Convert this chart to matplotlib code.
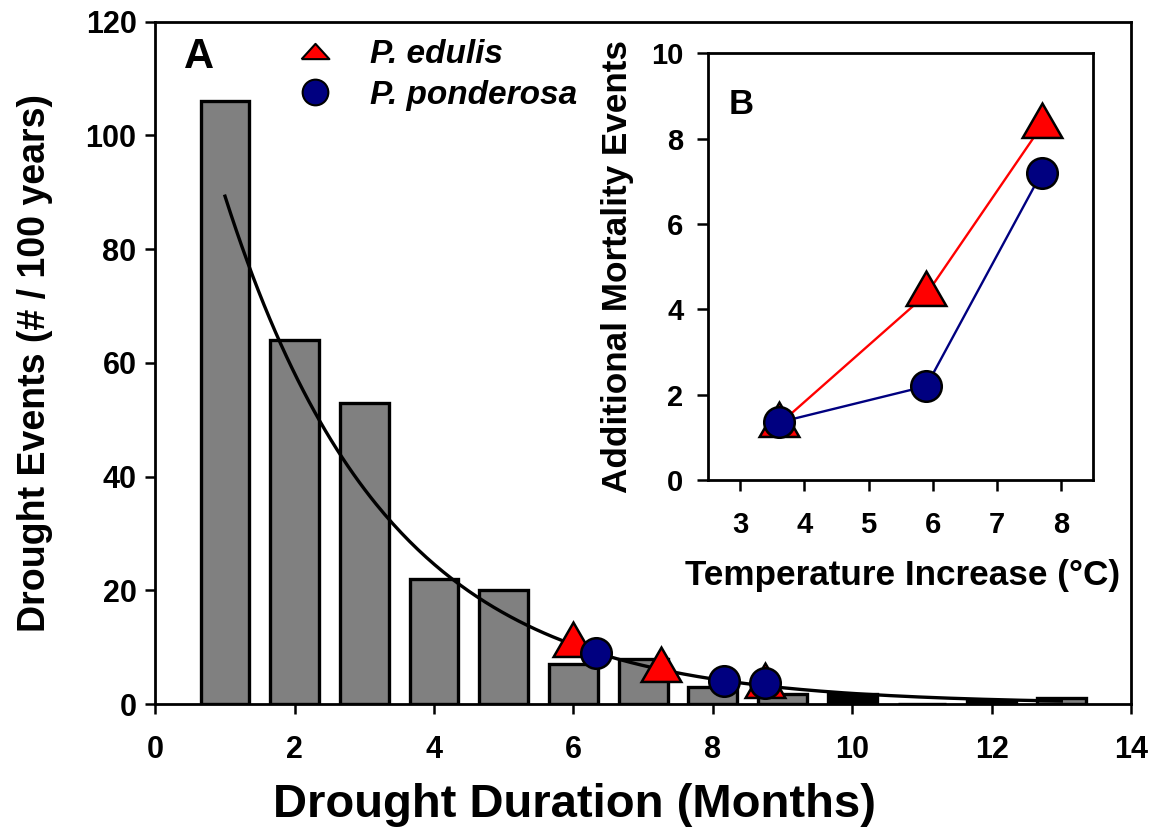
import numpy as np
import matplotlib
matplotlib.use("Agg")
import matplotlib.pyplot as plt
from matplotlib.lines import Line2D

plt.rcParams['font.family'] = ['Liberation Sans', 'DejaVu Sans']
plt.rcParams['font.weight'] = 'bold'

# ---- Panel A: drought events by duration ----
duration_months = [1, 2, 3, 4, 5, 6, 7, 8, 9, 10, 11, 12, 13]
drought_events = [106, 64, 53, 22, 20, 7, 8, 3, 1.7, 1.8, 0, 0.5, 1]

# exponential fit y = a * exp(-b * x)
fit_a = 137.3
fit_b = 0.43
fit_range = (1, 13)

edulis_duration = [6.0, 7.25, 8.75]
edulis_events = [10.3, 6.0, 3.2]
ponderosa_duration = [6.33, 8.16, 8.75]
ponderosa_events = [9.0, 4.1, 3.7]

x_ticks_a = [0, 2, 4, 6, 8, 10, 12, 14]
y_ticks_a = [0, 20, 40, 60, 80, 100, 120]

# ---- Panel B: additional mortality vs warming ----
temp_increase = [3.6, 5.9, 7.7]
edulis_mortality = [1.3, 4.35, 8.3]
ponderosa_mortality = [1.35, 2.2, 7.2]
x_ticks_b = [3, 4, 5, 6, 7, 8]
y_ticks_b = [0, 2, 4, 6, 8, 10]

W, H = 1161, 840
fig = plt.figure(figsize=(W / 100, H / 100), dpi=100)


def rect(left, top, right, bottom):
    return [left / W, 1 - bottom / H, (right - left) / W, (bottom - top) / H]


RED = '#ff0000'
NAVY = '#000080'
tri = (3, 0, 0)

ax = fig.add_axes(rect(155.3, 21.7, 1131, 704))
bar_colors = ['#808080'] * len(duration_months)
bar_colors[9] = 'black'
ax.bar(duration_months, drought_events, width=0.7, color=bar_colors,
       edgecolor='black', linewidth=2.4, zorder=2)

xf = np.linspace(fit_range[0], fit_range[1], 300)
ax.plot(xf, fit_a * np.exp(-fit_b * xf), color='black', lw=2.4, zorder=3)

ax.plot(edulis_duration, edulis_events, linestyle='none', marker=tri,
        ms=33, mfc=RED, mec='black', mew=1.8, zorder=4)
ax.plot(ponderosa_duration, ponderosa_events, linestyle='none', marker='o',
        ms=22, mfc=NAVY, mec='black', mew=1.8, zorder=5)

ax.set_xlim(0, 14)
ax.set_ylim(0, 120)
ax.set_xticks(x_ticks_a)
ax.set_yticks(y_ticks_a)
ax.tick_params(direction='out', length=7.5, width=1.8, labelsize=22)
ax.tick_params(axis='x', pad=15)
ax.tick_params(axis='y', pad=6)
for s in ax.spines.values():
    s.set_linewidth(2.0)
ax.set_xlabel('Drought Duration (Months)', fontsize=34, fontweight='bold', va='center')
ax.xaxis.set_label_coords((574 - 155.3) / 975.7, (704 - 805) / 682.3)
ax.set_ylabel('Drought Events (# / 100 years)', fontsize=27, fontweight='bold', va='center')
ax.yaxis.set_label_coords((35 - 155.3) / 975.7, 0.5)

ax.text((199 - 155.3) / 975.7, (704 - 56.7) / 682.3, 'A', transform=ax.transAxes,
        fontsize=30, fontweight='bold', ha='center', va='center')

leg_tri = [(-1, -0.55), (1, -0.55), (0, 0.55), (-1, -0.55)]
handles = [
    Line2D([], [], linestyle='none', marker=leg_tri, ms=20, mfc=RED, mec='black', mew=1.5,
           label='P. edulis'),
    Line2D([], [], linestyle='none', marker='o', ms=18.5, mfc=NAVY, mec='black', mew=1.5,
           label='P. ponderosa'),
]
leg = ax.legend(handles=handles, loc='upper left', frameon=False,
                bbox_to_anchor=((292 - 155.3) / 975.7, (704 - 39) / 682.3),
                borderaxespad=0, borderpad=0, handlelength=1.4, handletextpad=0.95,
                labelspacing=0.3, prop={'size': 24, 'weight': 'bold', 'style': 'italic'})

# ---- inset panel B ----
axb = fig.add_axes(rect(708.3, 53.3, 1093, 480))
axb.set_facecolor('white')
axb.plot(temp_increase, edulis_mortality, color=RED, lw=1.7, zorder=2)
axb.plot(temp_increase, ponderosa_mortality, color=NAVY, lw=1.7, zorder=2)
axb.plot(temp_increase, edulis_mortality, linestyle='none', marker=tri,
         ms=33, mfc=RED, mec='black', mew=1.8, zorder=3)
axb.plot(temp_increase, ponderosa_mortality, linestyle='none', marker='o',
         ms=22, mfc=NAVY, mec='black', mew=1.8, zorder=4)
axb.set_xlim(2.5, 8.5)
axb.set_ylim(0, 10)
axb.set_xticks(x_ticks_b)
axb.set_yticks(y_ticks_b)
axb.tick_params(direction='out', length=8, width=1.8, labelsize=21)
axb.tick_params(axis='x', pad=14)
axb.tick_params(axis='y', pad=10)
for s in axb.spines.values():
    s.set_linewidth(2.0)
axb.set_xlabel('Temperature Increase (°C)', fontsize=25.3, fontweight='bold', va='center')
axb.xaxis.set_label_coords((902.5 - 708.3) / 384.7, (480 - 575) / 426.7)
axb.set_ylabel('Additional Mortality Events', fontsize=25.3, fontweight='bold', va='center')
axb.yaxis.set_label_coords((618 - 708.3) / 384.7, 0.5)
axb.text((741.5 - 708.3) / 384.7, (480 - 104) / 426.7, 'B', transform=axb.transAxes,
         fontsize=25, fontweight='bold', ha='center', va='center')

fig.savefig('out.png', dpi=100)
